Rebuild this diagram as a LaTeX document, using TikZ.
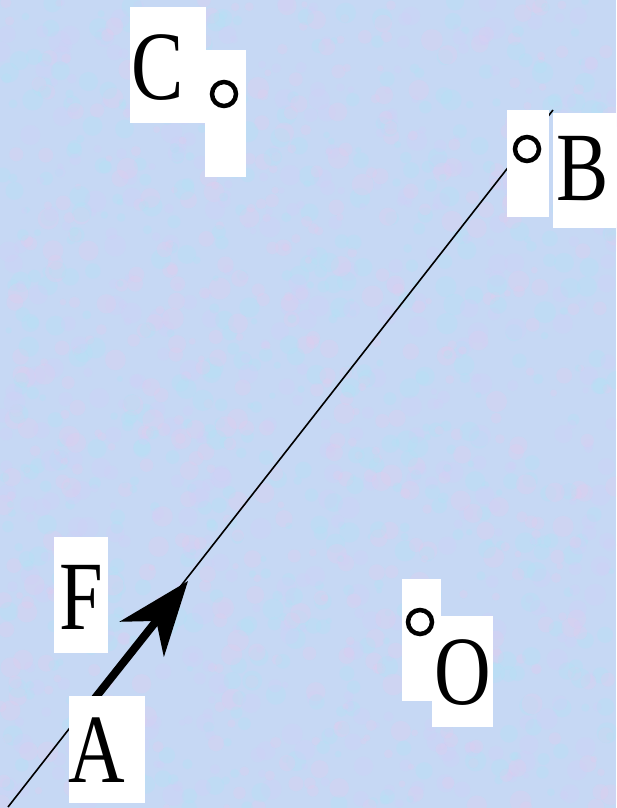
\documentclass[tikz,border=0pt]{standalone}
\usepackage{fontspec}
\setmainfont{Liberation Serif}
\usetikzlibrary{arrows.meta}
\definecolor{bgbase}{RGB}{198,216,244}
\definecolor{bgpink}{RGB}{226,204,238}
\definecolor{bgcyan}{RGB}{178,226,244}
\definecolor{bglav}{RGB}{210,208,248}
\newcommand{\narrowtxt}[1]{\scalebox{0.8}[1]{#1}}
\tikzset{
  lbl/.style={font=\fontsize{98}{98}\selectfont, inner sep=0pt, anchor=base},
  wbox/.style={fill=white, draw=none, inner sep=0pt, rectangle},
  ptc/.style={circle, draw=black, line width=4.5pt, minimum size=24pt, inner sep=0pt},
}
\begin{document}
\begin{tikzpicture}[x=1pt,y=-1pt]
\fill[bgbase] (0,0) rectangle (616,808);
\useasboundingbox (0,0) rectangle (616,808);
\pgfmathsetseed{11}
\begin{scope}
\clip (0,0) rectangle (616,808);
\foreach \i in {1,...,1600}{
  \pgfmathsetmacro\xx{rnd*616}
  \pgfmathsetmacro\yy{rnd*808}
  \pgfmathsetmacro\rr{3+rnd*8}
  \pgfmathtruncatemacro\cc{int(rnd*3)}
  \ifcase\cc \def\col{bgpink}\or \def\col{bgcyan}\else \def\col{bglav}\fi
  \fill[\col, opacity=0.3] (\xx,\yy) circle[radius=\rr pt];
}
\end{scope}

% line and force arrow
\coordinate (la) at (8,807);
\coordinate (lb) at (553,110);
\draw[line width=1.6pt] (la) -- (lb);
\coordinate (fa) at (84,712);
\coordinate (ft) at (188,581);
\draw[line width=8pt, -{Stealth[length=74pt,width=56pt,inset=23pt]}] (fa) -- (ft);

% white boxes
\node[wbox, minimum width=76pt, minimum height=116pt] (cbox) at (168,65) {};
\node[wbox, minimum width=41pt, minimum height=127pt] (cpbox) at (225.5,113.5) {};
\node[wbox, minimum width=42pt, minimum height=107pt] (bpbox) at (528,163.5) {};
\node[wbox, minimum width=63pt, minimum height=115pt] (bbox) at (584.5,170.5) {};
\node[wbox, minimum width=54pt, minimum height=116pt] (fbox) at (81,595) {};
\node[wbox, minimum width=76pt, minimum height=107pt] (abox) at (107,749.5) {};
\node[wbox, minimum width=39pt, minimum height=122pt] (opbox) at (421.5,640) {};
\node[wbox, minimum width=61pt, minimum height=111pt] (obox) at (462.5,671.5) {};

% points
\node[ptc] (Cpt) at (224,94) {};
\node[ptc] (Bpt) at (527,149) {};
\node[ptc] (Opt) at (420,622) {};

% labels
\node[lbl] (C) at (158,99) {\narrowtxt{C}};
\node[lbl] (B) at (583,200) {\narrowtxt{B}};
\node[lbl] (F) at (81,629) {\narrowtxt{F}};
\node[lbl] (A) at (97,782) {\narrowtxt{A}};
\node[lbl] (O) at (463,704) {\narrowtxt{O}};
\end{tikzpicture}
\end{document}
